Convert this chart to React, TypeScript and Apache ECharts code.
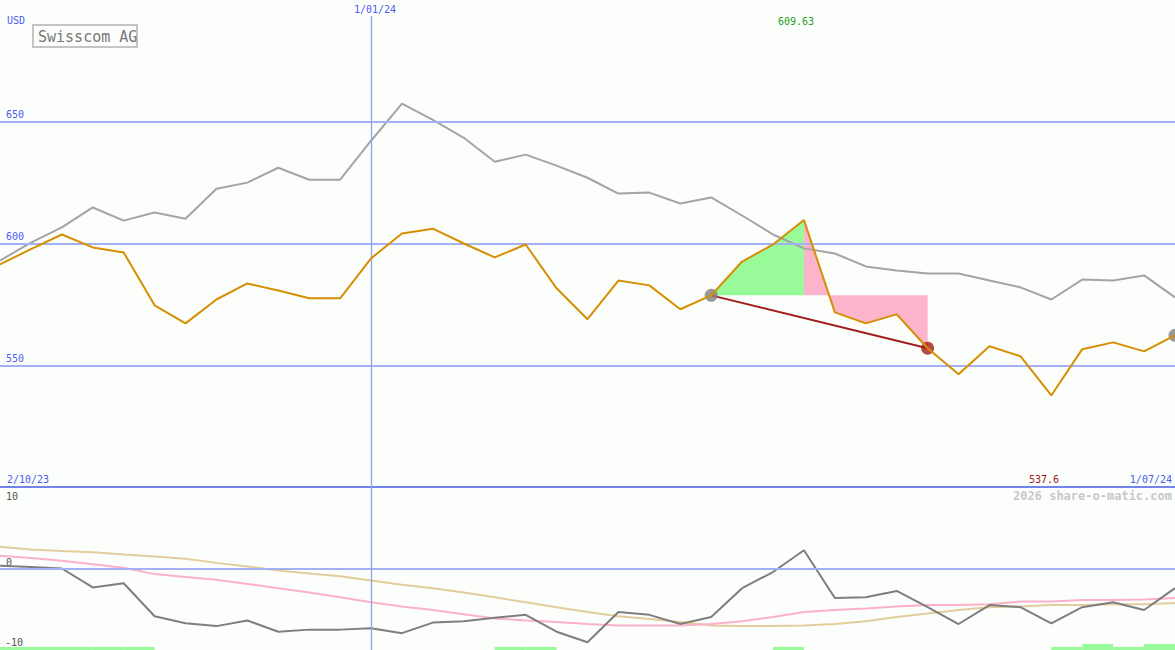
import React, { useEffect, useRef } from 'react';
import * as echarts from 'echarts';

// weekly closes, 9 Oct 2023 .. 1 Jul 2024
const weeks = [
  '9/10/23', '16/10/23', '23/10/23', '30/10/23', '6/11/23', '13/11/23', '20/11/23', '27/11/23',
  '4/12/23', '11/12/23', '18/12/23', '25/12/23', '1/01/24', '8/01/24', '15/01/24', '22/01/24',
  '29/01/24', '5/02/24', '12/02/24', '19/02/24', '26/02/24', '4/03/24', '11/03/24', '18/03/24',
  '25/03/24', '1/04/24', '8/04/24', '15/04/24', '22/04/24', '29/04/24', '6/05/24', '13/05/24',
  '20/05/24', '27/05/24', '3/06/24', '10/06/24', '17/06/24', '24/06/24', '1/07/24',
];

const price = [
  591.4, 597.7, 603.7, 598.4, 596.3, 574.6, 567.2, 577.0, 583.6, 580.7, 577.5, 577.5, 593.9,
  604.1, 606.1, 600.0, 594.3, 599.6, 581.6, 568.9, 584.8, 582.8, 573.0, 578.7, 592.6, 599.6,
  609.63, 571.7, 567.2, 570.9, 557.0, 546.3, 557.8, 553.7, 537.6, 556.6, 559.4, 555.7, 562.3,
];

const compare = [
  593.0, 600.4, 606.6, 614.8, 609.4, 612.7, 610.2, 622.5, 625.0, 631.1, 626.2, 626.2, 642.2,
  657.4, 650.8, 643.4, 633.6, 636.5, 632.0, 627.0, 620.5, 620.9, 616.4, 618.9, 611.5, 603.7,
  598.0, 595.9, 590.6, 588.9, 587.7, 587.7, 584.8, 582.0, 577.0, 585.2, 584.8, 586.9, 577.9,
];

const osc = [
  0.4, 0.2, 0.0, -2.7, -2.1, -6.8, -7.8, -8.2, -7.4, -9.0, -8.7, -8.7, -8.5, -9.2, -7.7, -7.5,
  -7.0, -6.6, -9.0, -10.5, -6.2, -6.6, -7.9, -6.9, -2.8, -0.5, 2.6, -4.2, -4.1, -3.2, -5.5, -7.9,
  -5.2, -5.5, -7.8, -5.5, -4.8, -5.9, -2.8,
];

const oscFast = [
  1.8, 1.5, 1.1, 0.6, 0.1, -0.8, -1.2, -1.6, -2.2, -2.8, -3.4, -4.1, -4.8, -5.4, -5.9, -6.5,
  -7.1, -7.4, -7.6, -7.9, -8.1, -8.1, -8.1, -7.9, -7.5, -6.9, -6.2, -5.9, -5.7, -5.4, -5.2, -5.2,
  -5.1, -4.7, -4.7, -4.5, -4.5, -4.4, -4.2,
];

const oscSlow = [
  3.1, 2.7, 2.5, 2.3, 2.0, 1.7, 1.4, 0.8, 0.3, -0.3, -0.7, -1.1, -1.7, -2.3, -2.8, -3.4, -4.1,
  -4.8, -5.5, -6.2, -6.8, -7.2, -7.6, -8.1, -8.2, -8.2, -8.1, -7.9, -7.5, -6.9, -6.4, -5.9, -5.5,
  -5.4, -5.2, -5.2, -5.1, -5.1, -4.9,
];

// per week interval: 0 none, 1 low, 2 high
const signal = [
  1, 1, 1, 1, 1, 0, 0, 0, 0, 0, 0, 0, 0, 0, 0, 0, 1, 1, 0, 0, 0, 0, 0, 0, 0, 1, 0, 0, 0, 0, 0, 0,
  0, 0, 1, 2, 1, 2,
];

const priceLevels = [650, 600, 550];
const markDate = '1/01/24';
const entryIdx = 23;
const peakIdx = 26;
const exitIdx = 30;
const lowIdx = 34;

const MONO = '"DejaVu Sans Mono", monospace';
const BLUE_TXT = '#4b5cf2';
const GRID_BLUE = '#a3b1f2';
const VLINE_BLUE = '#8fa1f7';

const App: React.FC = () => {
  const elRef = useRef<HTMLDivElement | null>(null);

  useEffect(() => {
    if (!elRef.current) return;
    const chart = echarts.init(elRef.current, undefined, { renderer: 'svg' });

    const base = price[entryIdx];
    const rise = price.map((v, i) => (i >= entryIdx && i <= peakIdx ? v : null));
    const drop = price.map((v, i) => (i >= peakIdx && i <= exitIdx ? v : null));

    const txt = (text: string, x: number, y: number, fill: string, align = 'left', font = `10px ${MONO}`) => ({
      type: 'text',
      silent: true,
      style: { text, x, y, fill, font, textAlign: align, textVerticalAlign: 'middle' },
    });

    const vStyle = { color: VLINE_BLUE, width: 1.3, type: 'solid' };

    const opt: any = {
      animation: false,
      backgroundColor: '#fcfefc',
      grid: [
        { left: 0, right: 0, top: 0, height: 487 },
        { left: 0, right: 0, top: 487, height: 163 },
        { left: 0, right: 0, top: 644, height: 6 },
      ],
      xAxis: [
        { type: 'category', data: weeks, boundaryGap: false, gridIndex: 0, show: false },
        { type: 'category', data: weeks, boundaryGap: false, gridIndex: 1, show: false },
        { type: 'category', data: weeks.slice(0, signal.length), boundaryGap: true, gridIndex: 2, show: false },
      ],
      yAxis: [
        { type: 'value', min: 500, max: 700, gridIndex: 0, show: false },
        { type: 'value', min: -11.6, max: 11.6, gridIndex: 1, show: false },
        { type: 'value', min: 0, max: 2, gridIndex: 2, show: false },
      ],
      series: [
        {
          name: 'rise',
          type: 'line',
          data: rise,
          showSymbol: false,
          lineStyle: { width: 0 },
          areaStyle: { color: '#98fa98', opacity: 1, origin: base },
          z: 1,
        },
        {
          name: 'drop',
          type: 'line',
          data: drop,
          showSymbol: false,
          lineStyle: { width: 0 },
          areaStyle: { color: '#fbb4ca', opacity: 1, origin: base },
          z: 1,
        },
        {
          name: 'compare',
          type: 'line',
          data: compare,
          showSymbol: false,
          lineStyle: { width: 2, color: '#a4a4a4' },
          z: 2,
          markLine: {
            silent: true,
            symbol: 'none',
            lineStyle: { color: GRID_BLUE, width: 2, type: 'solid' },
            label: {
              show: true,
              position: 'insideStartTop',
              formatter: '{c}',
              color: BLUE_TXT,
              fontFamily: MONO,
              fontSize: 10,
              distance: [6, 2],
            },
            data: [
              ...priceLevels.map((v) => ({ yAxis: v })),
              { yAxis: 500, lineStyle: { color: '#7283ea', width: 2, type: 'solid' }, label: { show: false } },
              [
                { coord: [markDate, 693.4], lineStyle: vStyle, label: { show: false } },
                { coord: [markDate, 500], lineStyle: vStyle, label: { show: false } },
              ],
            ],
          },
        },
        {
          name: 'trade',
          type: 'line',
          data: [
            [weeks[entryIdx], price[entryIdx]],
            [weeks[exitIdx], price[exitIdx]],
          ],
          showSymbol: false,
          lineStyle: { width: 2, color: '#a31c1c' },
          z: 3,
        },
        {
          name: 'dots',
          type: 'scatter',
          symbolSize: 13,
          data: [
            { value: [weeks[entryIdx], price[entryIdx]], itemStyle: { color: '#7f7f7f' } },
            { value: [weeks[exitIdx], price[exitIdx]], itemStyle: { color: '#a31c1c' } },
            { value: [weeks[weeks.length - 1], price[price.length - 1]], itemStyle: { color: '#7f7f7f' } },
          ],
          z: 4,
        },
        {
          name: 'price',
          type: 'line',
          data: price,
          showSymbol: false,
          lineStyle: { width: 2, color: '#d68f02' },
          z: 5,
        },
        {
          name: 'slow',
          type: 'line',
          xAxisIndex: 1,
          yAxisIndex: 1,
          data: oscSlow,
          showSymbol: false,
          lineStyle: { width: 2, color: '#e3cd9c' },
          z: 2,
          markLine: {
            silent: true,
            symbol: 'none',
            label: { show: false },
            lineStyle: vStyle,
            data: [
              { yAxis: 0, lineStyle: { color: GRID_BLUE, width: 2, type: 'solid' } },
              { xAxis: markDate, lineStyle: vStyle },
            ],
          },
        },
        {
          name: 'fast',
          type: 'line',
          xAxisIndex: 1,
          yAxisIndex: 1,
          data: oscFast,
          showSymbol: false,
          lineStyle: { width: 2, color: '#fbb1c8' },
          z: 3,
        },
        {
          name: 'osc',
          type: 'line',
          xAxisIndex: 1,
          yAxisIndex: 1,
          data: osc,
          showSymbol: false,
          lineStyle: { width: 2, color: '#7e7e7e' },
          z: 4,
        },
        {
          name: 'signal',
          type: 'bar',
          xAxisIndex: 2,
          yAxisIndex: 2,
          data: signal,
          barWidth: '100%',
          itemStyle: { color: '#98fa98' },
          z: 1,
        },
      ],
      graphic: [
        txt('USD', 7, 20, BLUE_TXT),
        {
          type: 'rect',
          silent: true,
          shape: { x: 33, y: 25, width: 104, height: 22 },
          style: { fill: '#fcfefc', stroke: '#c4c4c4', lineWidth: 2 },
        },
        txt('Swisscom AG', 38, 37, '#777777', 'left', `15px ${MONO}`),
        txt(markDate, 375, 9, BLUE_TXT, 'center'),
        txt(String(price[peakIdx]), 796, 21, '#24a024', 'center'),
        txt('2/10/23', 7, 479, BLUE_TXT),
        txt(String(price[lowIdx]), 1044, 479, '#a01818', 'center'),
        txt(weeks[weeks.length - 1], 1172, 479, BLUE_TXT, 'right'),
        txt('2026 share-o-matic.com', 1172, 496, '#c8c8c8', 'right', `bold 12px ${MONO}`),
        txt('10', 6, 496, '#555555'),
        txt('0', 6, 562, '#555555'),
        txt('-10', 5, 642, '#555555'),
      ],
    };

    chart.setOption(opt);
    return () => chart.dispose();
  }, []);

  return (
    <div
      ref={elRef}
      style={{ position: 'fixed', left: 0, top: 0, width: 1175, height: 650, background: '#fcfefc' }}
    />
  );
};

export default App;
